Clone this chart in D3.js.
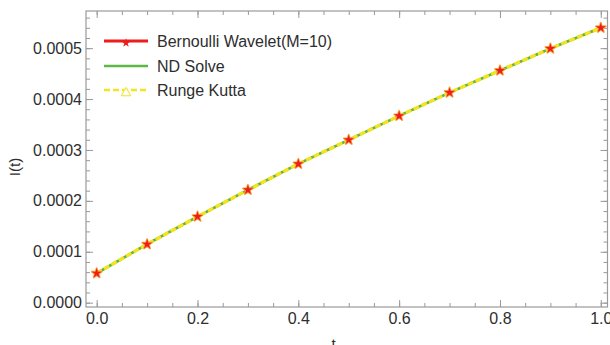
<!DOCTYPE html>
<html>
<head>
<meta charset="utf-8">
<script src="https://cdn.jsdelivr.net/npm/d3@7"></script>
<style>
  body { margin: 0; background: #fff; }
  text { font-family: "Liberation Sans", Arial, sans-serif; }
</style>
</head>
<body>
<div id="chart"></div>
<script>
// values
const tValues = [0, 0.1, 0.2, 0.3, 0.4, 0.5, 0.6, 0.7, 0.8, 0.9, 1.0];
const bernoulli = [0.0000578, 0.0001148, 0.000169, 0.0002215, 0.0002726, 0.0003198, 0.0003669, 0.0004127, 0.000456, 0.0004992, 0.000540];
const ndSolve = [0.0000578, 0.0001148, 0.000169, 0.0002215, 0.0002726, 0.0003198, 0.0003669, 0.0004127, 0.000456, 0.0004992, 0.000540];
const rungeKutta = [0.0000578, 0.0001148, 0.000169, 0.0002215, 0.0002726, 0.0003198, 0.0003669, 0.0004127, 0.000456, 0.0004992, 0.000540];
const xTicks = [0, 0.2, 0.4, 0.6, 0.8, 1.0];
const yTicks = [0, 0.0001, 0.0002, 0.0003, 0.0004, 0.0005];
const legendNames = ["Bernoulli Wavelet(M=10)", "ND Solve", "Runge Kutta"];

const width = 610;
const height = 345;
const frame = { left: 86, right: 607.5, top: 11, bottom: 307 };

const red = "#ee1c1c";
const green = "#5cb848";
const yellow = "#f2e41e";
const axisColor = "#9a9a9a";
const textColor = "#2e2e2e";

const x = d3.scaleLinear([-0.0212, 1.0133], [frame.left, frame.right]);
const y = d3.scaleLinear([-0.0000085, 0.000573], [frame.bottom, frame.top]);

const svg = d3
  .select("#chart")
  .append("svg")
  .attr("width", width)
  .attr("height", height);

// minor ticks
const xMinor = d3.range(0, 1.0001, 0.05);
const yMinor = d3.range(0, 0.000561, 0.00002);

function styleAxis(g) {
  g.select(".domain").remove();
  g.selectAll(".tick line").attr("stroke", axisColor);
  g.selectAll(".tick text")
    .attr("fill", textColor)
    .style("font-size", "16px");
}

// bottom
svg.append("g")
  .attr("transform", `translate(0,${frame.bottom})`)
  .call(d3.axisBottom(x).tickValues(xMinor).tickSize(-4).tickFormat(""))
  .call(styleAxis);
svg.append("g")
  .attr("transform", `translate(0,${frame.bottom})`)
  .call(d3.axisBottom(x).tickValues(xTicks).tickSize(-7).tickPadding(6).tickFormat(d3.format(".1f")))
  .call(styleAxis);
// top
svg.append("g")
  .attr("transform", `translate(0,${frame.top})`)
  .call(d3.axisTop(x).tickValues(xMinor).tickSize(-4).tickFormat(""))
  .call(styleAxis);
svg.append("g")
  .attr("transform", `translate(0,${frame.top})`)
  .call(d3.axisTop(x).tickValues(xTicks).tickSize(-7).tickFormat(""))
  .call(styleAxis);
// left
svg.append("g")
  .attr("transform", `translate(${frame.left},0)`)
  .call(d3.axisLeft(y).tickValues(yMinor).tickSize(-4).tickFormat(""))
  .call(styleAxis);
svg.append("g")
  .attr("transform", `translate(${frame.left},0)`)
  .call(d3.axisLeft(y).tickValues(yTicks).tickSize(-7).tickPadding(4).tickFormat(d3.format(".4f")))
  .call(styleAxis);
// right
svg.append("g")
  .attr("transform", `translate(${frame.right},0)`)
  .call(d3.axisRight(y).tickValues(yMinor).tickSize(-4).tickFormat(""))
  .call(styleAxis);
svg.append("g")
  .attr("transform", `translate(${frame.right},0)`)
  .call(d3.axisRight(y).tickValues(yTicks).tickSize(-7).tickFormat(""))
  .call(styleAxis);

svg.append("rect")
  .attr("x", frame.left)
  .attr("y", frame.top)
  .attr("width", frame.right - frame.left)
  .attr("height", frame.bottom - frame.top)
  .attr("fill", "none")
  .attr("stroke", axisColor)
  .attr("stroke-width", 1.2);

// axis titles
svg.append("text")
  .attr("transform", `translate(20,${(frame.top + frame.bottom) / 2 + 8}) rotate(-90)`)
  .attr("text-anchor", "middle")
  .attr("fill", textColor)
  .style("font-size", "15px")
  .text("I(t)");

svg.append("text")
  .attr("x", x(0.47))
  .attr("y", 349)
  .attr("text-anchor", "middle")
  .attr("fill", textColor)
  .style("font-size", "15px")
  .text("t");

// series
const line = d3.line()
  .x((d) => x(d[0]))
  .y((d) => y(d[1]));

const star = d3.symbol().type(d3.symbolStar).size(30);
const tri = d3.symbol().type(d3.symbolTriangle).size(40);

svg.append("path")
  .attr("d", line(d3.zip(tValues, bernoulli)))
  .attr("fill", "none")
  .attr("stroke", red)
  .attr("stroke-width", 2);

svg.append("path")
  .attr("d", line(d3.zip(tValues, ndSolve)))
  .attr("fill", "none")
  .attr("stroke", green)
  .attr("stroke-width", 2.6);

svg.append("path")
  .attr("d", line(d3.zip(tValues, rungeKutta)))
  .attr("fill", "none")
  .attr("stroke", yellow)
  .attr("stroke-width", 3.4)
  .attr("stroke-dasharray", "6,2.5");

svg.append("g")
  .selectAll("path")
  .data(d3.zip(tValues, bernoulli))
  .join("path")
  .attr("transform", (d) => `translate(${x(d[0])},${y(d[1])})`)
  .attr("d", star)
  .attr("fill", red)
  .attr("stroke", "#f6a03a")
  .attr("stroke-width", 1.8)
  .attr("stroke-linejoin", "round")
  .attr("paint-order", "stroke");

// legend
const legendY = [41, 66, 90];
const legendColors = [red, green, yellow];
const legend = svg.append("g")
  .selectAll("g")
  .data(legendNames)
  .join("g")
  .attr("transform", (d, i) => `translate(0,${legendY[i]})`);

legend.append("line")
  .attr("x1", 104)
  .attr("x2", 148)
  .attr("stroke", (d, i) => legendColors[i])
  .attr("stroke-width", (d, i) => (i === 0 ? 3 : 2.6))
  .attr("stroke-dasharray", (d, i) => (i === 2 ? "6,3" : null));

legend.filter((d, i) => i === 0)
  .append("path")
  .attr("transform", "translate(126,2)")
  .attr("d", d3.symbol().type(d3.symbolStar).size(25))
  .attr("fill", red);

legend.filter((d, i) => i === 2)
  .append("path")
  .attr("transform", "translate(126,3)")
  .attr("d", tri)
  .attr("fill", "#fff")
  .attr("stroke", yellow)
  .attr("stroke-width", 1);

legend.append("text")
  .attr("x", 157)
  .attr("dy", "0.36em")
  .attr("fill", textColor)
  .style("font-size", "16px")
  .text((d) => d);
</script>
</body>
</html>
